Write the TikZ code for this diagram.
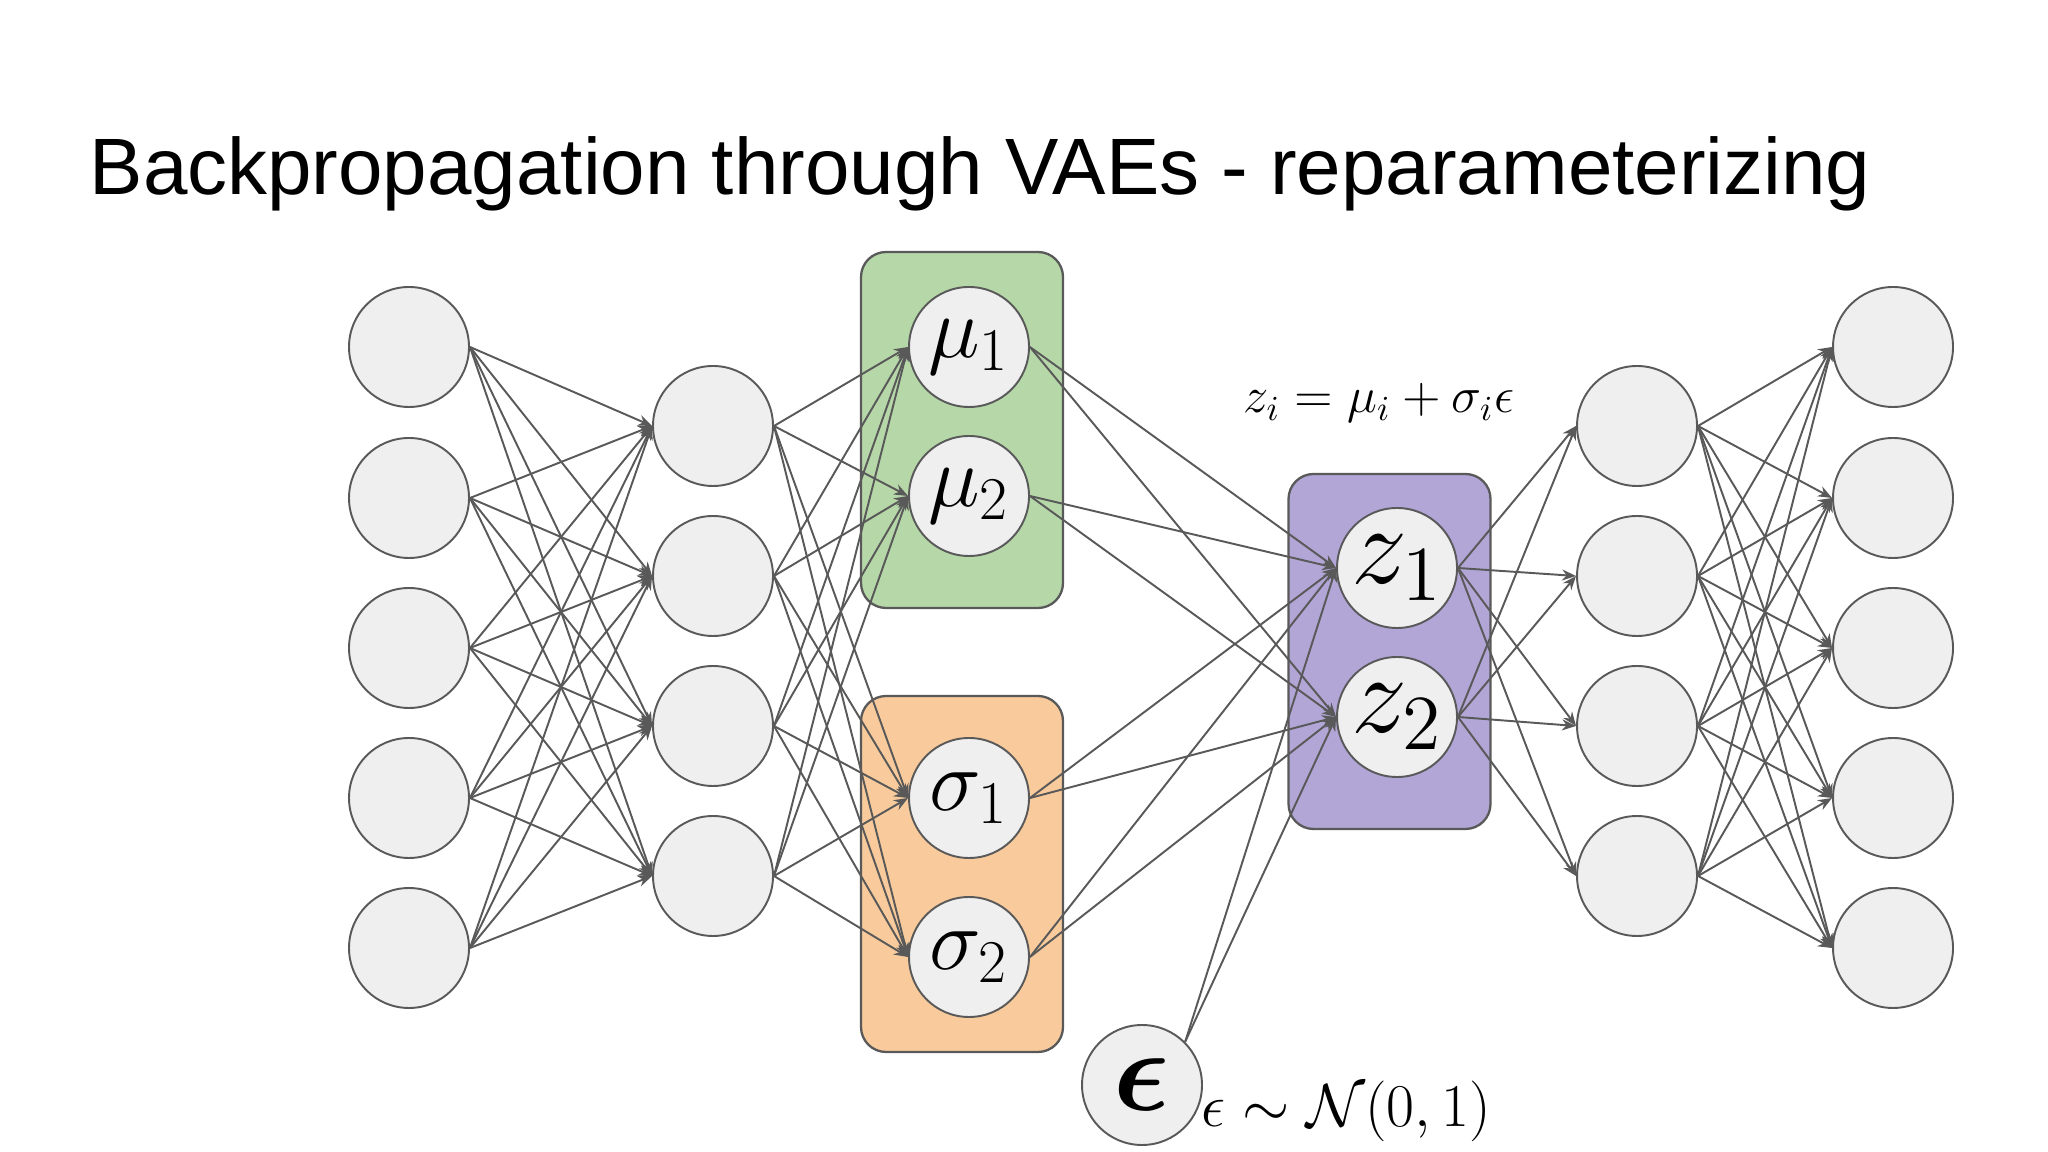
\documentclass[tikz,border=0pt]{standalone}
\usepackage{amsmath,bm}
\usepackage{graphicx}
\usepackage{fontspec}
\newfontfamily\titlefont{Liberation Sans}
\usetikzlibrary{arrows.meta}
\definecolor{edgegray}{HTML}{595959}
\definecolor{nodefill}{HTML}{EFEFEF}
\definecolor{mugreen}{HTML}{B6D7A8}
\definecolor{sigorange}{HTML}{F9CB9C}
\definecolor{zpurple}{HTML}{B2A6D6}
\begin{document}
\begin{tikzpicture}[x=0.1mm,y=-0.1mm,
  neuron/.style={circle,draw=edgegray,fill=nodefill,line width=0.55pt,minimum size=12mm,inner sep=0pt},
  grp/.style={draw=edgegray,line width=0.65pt,rounded corners=2.5mm,inner sep=0pt},
  conn/.style={draw=edgegray,line width=0.55pt,-{Stealth[length=1.4mm,width=1.1mm]}},
  greek/.style={font=\fontsize{23}{27}\selectfont},
  zlab/.style={font=\fontsize{20}{24}\selectfont}]
\useasboundingbox (0,0) rectangle (2048,1152);
% title
\node[anchor=base west,inner sep=0pt,font=\titlefont\fontsize{22.75}{27}\selectfont] (title) at (89,195) {Backpropagation through VAEs - reparameterizing};
% group boxes
\node[grp,fill=mugreen,minimum width=20.2mm,minimum height=35.6mm] (mubox) at (962,430) {};
\node[grp,fill=sigorange,minimum width=20.2mm,minimum height=35.6mm] (sigbox) at (962,874) {};
\node[grp,fill=zpurple,minimum width=20.2mm,minimum height=35.5mm] (zbox) at (1389.5,651.5) {};
% neurons
\foreach \i/\y in {1/347,2/498,3/648,4/798,5/948} {
  \node[neuron] (a\i) at (409,\y) {};
  \node[neuron] (o\i) at (1893,\y) {};
}
\foreach \i/\y in {1/426,2/576,3/726,4/876} {
  \node[neuron] (b\i) at (713,\y) {};
  \node[neuron] (d\i) at (1637,\y) {};
}
\node[neuron,greek] (mu1) at (969,347) {$\mu_1$};
\node[neuron,greek] (mu2) at (969,496) {$\mu_2$};
\node[neuron,greek] (s1) at (969,798) {$\sigma_1$};
\node[neuron,greek] (s2) at (969,957) {$\sigma_2$};
\node[neuron,zlab] (z1) at (1397,568) {\scalebox{1.54}{$z_1$}};
\node[neuron,zlab] (z2) at (1397,717) {\scalebox{1.54}{$z_2$}};
\node[neuron,zlab] (eps) at (1142,1085) {\scalebox{1.6}{$\bm{\epsilon}$}};
% edges
\foreach \i in {1,...,5} \foreach \j in {1,...,4} \draw[conn] (a\i.east) -- (b\j.west);
\foreach \i in {1,...,4} \foreach \t in {mu1,mu2,s1,s2} \draw[conn] (b\i.east) -- (\t.west);
\foreach \s in {mu1,mu2,s1,s2} \foreach \t in {z1,z2} \draw[conn] (\s.east) -- (\t.west);
\foreach \t in {z1,z2} \draw[conn] (eps.north east) -- (\t.west);
\foreach \s in {z1,z2} \foreach \j in {1,...,4} \draw[conn] (\s.east) -- (d\j.west);
\foreach \i in {1,...,4} \foreach \j in {1,...,5} \draw[conn] (d\i.east) -- (o\j.west);
% formulas
\node[anchor=base west,inner sep=0pt,font=\fontsize{14.7}{17}\selectfont] (formula) at (1243,413) {$z_i = \mu_i + \sigma_i\epsilon$};
\node[anchor=base west,inner sep=0pt,font=\fontsize{17}{20}\selectfont] (epslabel) at (1201,1127) {$\epsilon \sim \mathcal{N}(0,1)$};
\end{tikzpicture}
\end{document}
